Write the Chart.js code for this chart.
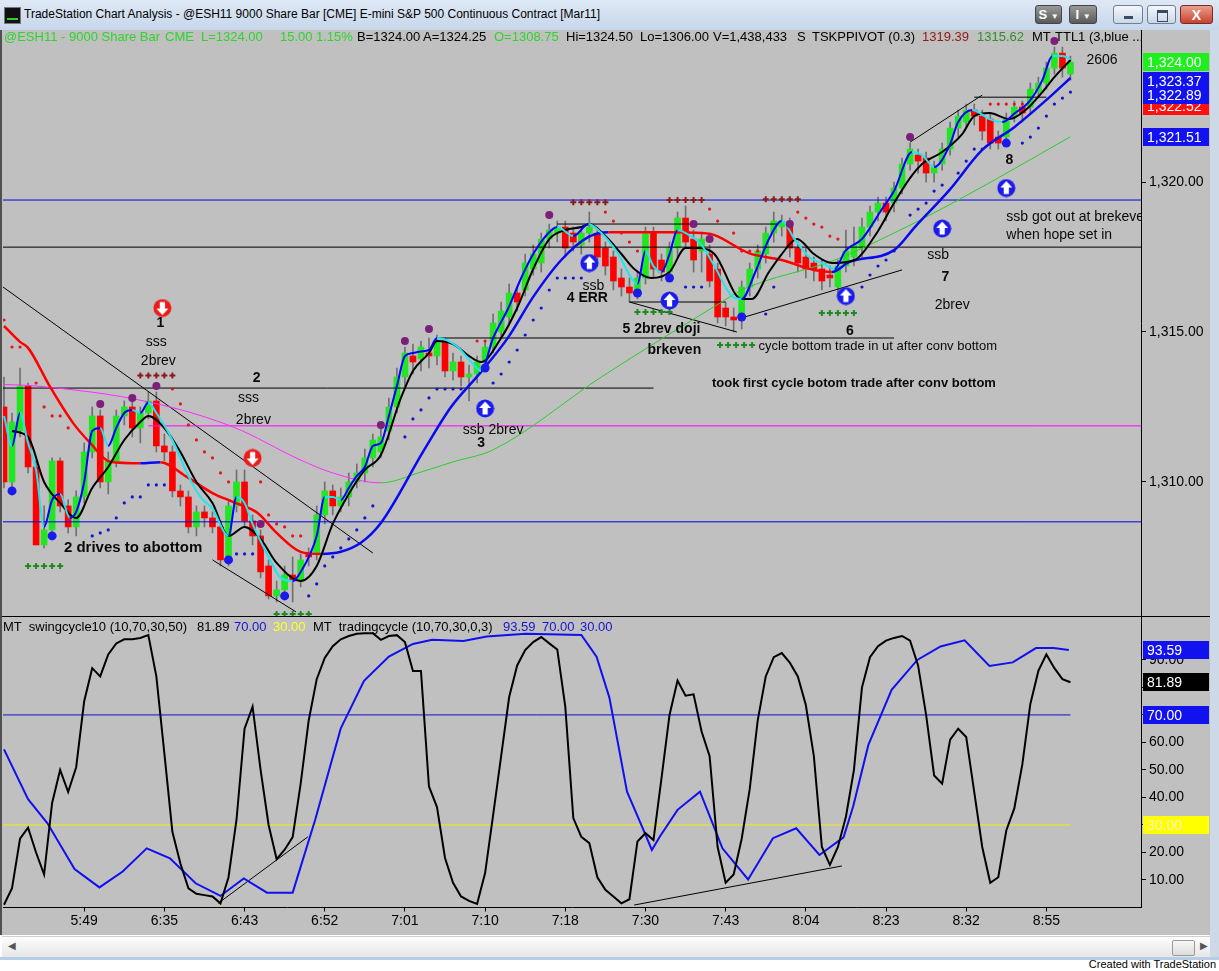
<!DOCTYPE html>
<html>
<head>
<meta charset="utf-8">
<script src="https://cdn.jsdelivr.net/npm/chart.js@4.4.1/dist/chart.umd.min.js"></script>
<style>
  body { margin: 0; width: 1219px; height: 971px; overflow: hidden; background: #fff;
         font-family: 'Liberation Sans', Arial, sans-serif; position: relative; }
  #title { position: absolute; left: 0; top: 0; width: 1219px; height: 30px;
           background: linear-gradient(#dfe9f5, #c6d6ea); }
  #ico { position: absolute; left: 4px; top: 7px; width: 15px; height: 15px; background: #111; border: 1px solid #777; }
  #ico::after { content: ''; position: absolute; left: 2px; right: 2px; bottom: 3px; height: 2px; background: #3c3; }
  #ttl { position: absolute; left: 24px; top: 7px; font-size: 12px; color: #000; white-space: pre; }
  .btn { position: absolute; top: 5px; height: 19px; border-radius: 3px; box-sizing: border-box;
         font-size: 13px; font-weight: bold; color: #fff; text-align: center; line-height: 18px; }
  .dk { background: linear-gradient(#9a9a9a, #5a5a5a); border: 1px solid #444; }
  .lt { background: linear-gradient(#f4f7fb, #cbd7e6); border: 1px solid #6d7f98; }
  .cl { background: linear-gradient(#e8a090, #c8412c); border: 1px solid #7a2a20; }
  #bg { position: absolute; left: 0; top: 30px; width: 1210px; height: 905px; background: #c0c0c0; }
  #lb { position: absolute; left: 0; top: 30px; width: 2px; height: 905px; background: #505050; }
  #rf { position: absolute; left: 1210px; top: 30px; width: 9px; height: 930px; background: #cdd9e7; }
  canvas { position: absolute; left: 0; }
  #price { top: 30px; }
  #osc { top: 617px; }
  #sep { position: absolute; left: 0; top: 616px; width: 1210px; height: 1px; background: #000; }
  .hd { position: absolute; font-size: 13px; white-space: pre; color: #000; }
  #scroll { position: absolute; left: 2px; top: 936px; width: 1208px; height: 20px;
            background: linear-gradient(#fdfdfd, #e6e6e6); border-top: 1px solid #d0d0d0; }
  #thumb { position: absolute; left: 1170px; top: 3px; width: 21px; height: 14px;
           background: linear-gradient(#f7f7f7, #dcdcdc); border: 1px solid #9a9a9a; border-radius: 2px; }
  #bf { position: absolute; left: 0; top: 957px; width: 1219px; height: 3px; background: #b7cde6; }
  #foot { position: absolute; right: 3px; top: 958px; font-size: 11px; color: #000; }
</style>
</head>
<body>
<div id="title">
  <div id="ico"></div>
  <span id="ttl">TradeStation Chart Analysis - @ESH11 9000 Share Bar [CME] E-mini S&amp;P 500 Continuous Contract [Mar11]</span>
  <div class="btn dk" style="left:1035px;width:27px">S <span style="font-size:8px">&#9660;</span></div>
  <div class="btn dk" style="left:1069px;width:28px">I <span style="font-size:8px">&#9660;</span></div>
  <div class="btn lt" style="left:1113px;width:30px"><div style="position:absolute;left:10px;top:10px;width:9px;height:3px;background:#3a4a60"></div></div>
  <div class="btn lt" style="left:1147px;width:29px"><div style="position:absolute;left:9px;top:4px;width:9px;height:8px;border:1px solid #3a4a60;border-top-width:3px"></div></div>
  <div class="btn cl" style="left:1180px;width:33px;font-size:14px">X</div>
</div>
<div id="bg"></div>
<div id="rf"></div>
<canvas id="price" width="1210" height="586"></canvas>
<canvas id="osc" width="1210" height="319"></canvas>
<div id="sep"></div>
<div id="lb"></div>

<div class="hd" style="top:29px;left:4px;color:#2fd42f">@ESH11 - 9000 Share Bar</div>
<div class="hd" style="top:29px;left:165px;color:#2fd42f">CME</div>
<div class="hd" style="top:29px;left:201px;color:#2fd42f">L=1324.00</div>
<div class="hd" style="top:29px;left:280px;color:#2fd42f">15.00</div>
<div class="hd" style="top:29px;left:316px;color:#2fd42f">1.15%</div>
<div class="hd" style="top:29px;left:357px">B=1324.00</div>
<div class="hd" style="top:29px;left:423px">A=1324.25</div>
<div class="hd" style="top:29px;left:494px;color:#2fd42f">O=1308.75</div>
<div class="hd" style="top:29px;left:566px">Hi=1324.50</div>
<div class="hd" style="top:29px;left:640px">Lo=1306.00</div>
<div class="hd" style="top:29px;left:713px">V=1,438,433</div>
<div class="hd" style="top:29px;left:797px">S</div>
<div class="hd" style="top:29px;left:812px">TSKPPIVOT (0.3)</div>
<div class="hd" style="top:29px;left:922px;color:#8c1b1b">1319.39</div>
<div class="hd" style="top:29px;left:977px;color:#2f8f2f">1315.62</div>
<div class="hd" style="top:29px;left:1032px">MT</div>
<div class="hd" style="top:29px;left:1055px">TTL1 (3,blue ...</div>

<div class="hd" style="top:619px;left:3px">MT  swingcycle10 (10,70,30,50)</div>
<div class="hd" style="top:619px;left:197px">81.89</div>
<div class="hd" style="top:619px;left:234px;color:#1515d0">70.00</div>
<div class="hd" style="top:619px;left:273px;color:#ffff30">30.00</div>
<div class="hd" style="top:619px;left:313px">MT  tradingcycle (10,70,30,0,3)</div>
<div class="hd" style="top:619px;left:503px;color:#1515d0">93.59</div>
<div class="hd" style="top:619px;left:542px;color:#1515d0">70.00</div>
<div class="hd" style="top:619px;left:580px;color:#1515d0">30.00</div>

<div id="scroll">
  <div style="position:absolute;left:6px;top:3px;font-size:10px;color:#555">&#9664;</div>
  <div id="thumb"></div>
  <div style="position:absolute;left:1198px;top:3px;font-size:10px;color:#555">&#9654;</div>
</div>
<div id="bf"></div>
<div id="foot">Created with TradeStation</div>

<script>
// ---- data (bar index 0..133) ----
const tickLabels = ['5:49', '6:35', '6:43', '6:52', '7:01', '7:10', '7:18', '7:30', '7:43', '8:04', '8:23', '8:32', '8:55'];
const tickBars = [10, 20, 30, 40, 50, 60, 70, 80, 90, 100, 110, 120, 130];
const priceTicks = [1310, 1315, 1320];
const oscTicks = [10, 20, 30, 40, 50, 60, 70, 80, 90];

const opens = [
  1312.5, 1310.0, 1311.7, 1313.2, 1310.5, 1307.9, 1308.4, 1310.7, 1309.2, 1308.5,
  1309.5, 1311.0, 1312.2, 1310.0, 1310.7, 1312.2, 1312.5, 1311.8, 1312.3, 1312.7,
  1311.2, 1311.0, 1309.7, 1309.5, 1308.5, 1309.0, 1308.8, 1308.5, 1307.4, 1309.2,
  1310.0, 1308.7, 1308.2, 1307.2, 1306.2, 1306.4, 1306.9, 1306.7, 1307.6, 1307.6,
  1308.9, 1309.7, 1309.2, 1309.5, 1310.0, 1310.3, 1310.8, 1311.0, 1311.7, 1312.5,
  1313.5, 1314.2, 1314.1, 1314.3, 1314.2, 1314.7, 1313.7, 1314.0, 1313.5, 1313.6,
  1314.0, 1314.5, 1315.0, 1315.5, 1316.3, 1316.4, 1317.1, 1317.3, 1318.1, 1318.3,
  1318.5, 1318.3, 1317.9, 1318.3, 1318.3, 1317.8, 1317.5, 1316.8, 1316.5, 1316.4,
  1316.8, 1318.3, 1317.4, 1317.0, 1317.8, 1318.8, 1318.1, 1317.7, 1317.6, 1317.1,
  1315.8, 1315.5, 1315.5, 1316.5, 1317.1, 1317.6, 1318.3, 1318.5, 1318.5, 1317.8,
  1317.5, 1317.3, 1317.1, 1316.9, 1316.5, 1317.2, 1317.5, 1317.8, 1318.5, 1319.0,
  1319.3, 1319.3, 1319.8, 1320.6, 1320.9, 1320.8, 1320.3, 1320.6, 1321.1, 1321.8,
  1322.0, 1322.4, 1322.2, 1322.1, 1321.5, 1321.5, 1322.2, 1322.5, 1322.5, 1323.0,
  1323.3, 1323.8, 1324.3, 1323.6
];
const closes = [
  1310.0, 1312.0, 1313.2, 1310.5, 1307.9, 1308.4, 1310.7, 1309.2, 1308.5, 1309.5,
  1311.0, 1312.2, 1310.0, 1310.7, 1312.2, 1312.5, 1311.8, 1312.3, 1312.7, 1311.2,
  1311.0, 1309.7, 1309.5, 1308.5, 1309.0, 1308.8, 1308.5, 1307.4, 1309.2, 1310.0,
  1308.7, 1308.2, 1307.0, 1306.2, 1306.4, 1306.9, 1306.7, 1307.4, 1307.5, 1308.9,
  1309.7, 1309.2, 1309.5, 1310.0, 1310.3, 1310.8, 1311.4, 1311.5, 1312.5, 1313.5,
  1314.3, 1314.0, 1314.5, 1314.2, 1314.7, 1313.7, 1314.0, 1313.5, 1313.6, 1314.0,
  1314.5, 1315.3, 1315.7, 1316.3, 1316.0, 1317.3, 1317.6, 1318.1, 1318.4, 1318.5,
  1317.8, 1318.0, 1318.3, 1318.5, 1317.5, 1317.2, 1316.7, 1316.5, 1316.3, 1316.8,
  1318.3, 1317.1, 1317.0, 1317.8, 1318.8, 1318.0, 1317.4, 1318.1, 1316.7, 1315.5,
  1315.5, 1315.4, 1316.5, 1317.1, 1317.7, 1318.3, 1318.7, 1318.7, 1317.8, 1317.3,
  1317.1, 1317.1, 1316.7, 1316.8, 1317.2, 1317.7, 1317.9, 1318.5, 1319.0, 1319.3,
  1319.0, 1319.8, 1320.6, 1321.1, 1320.7, 1320.3, 1320.5, 1321.1, 1321.8, 1322.2,
  1322.4, 1322.2, 1321.7, 1321.3, 1321.3, 1322.1, 1322.5, 1322.3, 1323.1, 1323.3,
  1323.8, 1324.3, 1323.8, 1324.0
];
const highs = [
  1313.5, 1312.3, 1313.8, 1313.3, 1310.7, 1309.2, 1310.8, 1310.8, 1309.4, 1309.7,
  1311.3, 1312.5, 1312.4, 1311.0, 1312.4, 1312.7, 1312.7, 1312.5, 1313.0, 1313.0,
  1311.6, 1311.2, 1309.9, 1309.7, 1309.2, 1309.2, 1309.0, 1308.7, 1309.4, 1310.4,
  1310.4, 1308.9, 1308.4, 1307.4, 1306.7, 1307.2, 1307.5, 1307.6, 1307.8, 1309.2,
  1310.0, 1309.9, 1309.8, 1310.3, 1310.6, 1311.1, 1311.6, 1311.8, 1312.8, 1313.8,
  1314.5, 1314.6, 1314.7, 1314.8, 1314.9, 1314.8, 1314.3, 1314.2, 1313.9, 1314.2,
  1314.7, 1315.6, 1316.0, 1316.6, 1316.5, 1317.6, 1317.9, 1318.3, 1318.6, 1318.7,
  1318.7, 1318.5, 1318.5, 1319.0, 1318.5, 1318.0, 1317.7, 1317.1, 1316.8, 1317.0,
  1318.5, 1318.5, 1317.6, 1318.0, 1319.0, 1319.2, 1318.4, 1318.3, 1317.9, 1317.3,
  1316.0, 1315.8, 1316.7, 1317.3, 1317.9, 1318.5, 1319.0, 1318.9, 1318.8, 1318.0,
  1317.8, 1317.5, 1317.4, 1317.2, 1317.4, 1318.4, 1318.5, 1318.8, 1319.2, 1319.5,
  1319.5, 1320.0, 1320.8, 1321.3, 1321.1, 1321.0, 1320.7, 1321.3, 1322.0, 1322.4,
  1322.6, 1322.6, 1322.4, 1322.3, 1321.7, 1322.3, 1322.7, 1322.7, 1323.3, 1323.5,
  1324.0, 1324.5, 1324.5, 1324.2
];
const lows = [
  1309.8, 1309.8, 1311.5, 1310.3, 1307.9, 1307.8, 1308.2, 1309.0, 1308.3, 1308.2,
  1309.3, 1310.8, 1309.8, 1309.6, 1310.5, 1311.9, 1311.5, 1311.3, 1312.1, 1311.0,
  1310.7, 1309.5, 1309.2, 1308.3, 1308.2, 1308.5, 1308.3, 1307.2, 1307.2, 1309.0,
  1308.5, 1307.9, 1306.8, 1306.1, 1306.0, 1306.2, 1306.0, 1306.5, 1307.2, 1307.4,
  1308.6, 1308.9, 1309.0, 1309.2, 1309.8, 1310.0, 1310.5, 1310.8, 1311.4, 1312.3,
  1313.2, 1313.6, 1313.7, 1313.8, 1313.9, 1313.5, 1313.4, 1313.2, 1312.7, 1313.3,
  1313.8, 1314.3, 1314.8, 1315.2, 1315.7, 1316.2, 1316.9, 1317.0, 1317.8, 1318.0,
  1317.5, 1317.7, 1317.6, 1318.0, 1317.2, 1316.9, 1316.4, 1316.2, 1316.0, 1316.1,
  1316.6, 1316.8, 1316.7, 1316.7, 1317.5, 1317.8, 1317.0, 1317.0, 1316.5, 1315.3,
  1315.2, 1315.0, 1315.1, 1316.2, 1316.8, 1317.3, 1318.0, 1318.2, 1317.5, 1317.0,
  1316.8, 1316.7, 1316.4, 1316.5, 1316.2, 1317.0, 1317.2, 1317.5, 1318.2, 1318.7,
  1318.7, 1319.0, 1319.6, 1320.4, 1320.3, 1320.0, 1320.0, 1320.4, 1320.9, 1321.5,
  1321.8, 1321.9, 1321.4, 1321.1, 1321.1, 1321.3, 1322.0, 1322.0, 1322.3, 1322.8,
  1323.1, 1323.6, 1323.5, 1323.4
];

// moving-average style lines, [bar, price] read at their turning points
const fastLine = [
  [0, 1312.2], [1, 1311.2], [2, 1312.3], [3, 1311.3], [4, 1310.4], [5, 1308.5], [6, 1309.4], [7, 1309.6],
  [8.2, 1308.8], [9, 1309.0], [10, 1310.0], [11, 1311.7], [12, 1311.8], [13, 1311.2], [14, 1311.8],
  [15, 1312.3], [16, 1312.4], [17, 1312.3], [18, 1312.65], [19, 1312.3], [21, 1311.4], [23, 1310.2],
  [24.5, 1309.5], [26, 1309.1], [28, 1308.2], [29, 1309.5], [30, 1309.3], [31, 1308.6], [33, 1307.5],
  [34.5, 1306.8], [36, 1306.7], [37, 1307.0], [39, 1308.2], [40, 1309.5], [41, 1309.5], [42, 1309.4],
  [43, 1309.8], [44, 1310.2], [45, 1310.5], [46, 1311.2], [47, 1311.3], [48, 1312.2], [49, 1313.2],
  [50, 1314.2], [51, 1314.3], [52, 1314.35], [53, 1314.4], [54, 1314.8], [56.6, 1314.5], [58.25, 1314.0],
  [59.5, 1313.7], [61, 1314.8], [62.9, 1315.8], [64.5, 1316.8], [66, 1317.6], [67.9, 1318.3], [69, 1318.5],
  [71, 1318.2], [72.9, 1318.6], [74.5, 1318.3], [76.6, 1317.6], [78.25, 1316.8], [79, 1316.6], [80, 1317.7],
  [81, 1317.2], [82, 1317.0], [83, 1317.6], [84, 1318.4], [85, 1318.3], [87, 1317.9], [88.6, 1317.2],
  [90.75, 1316.2], [92, 1316.1], [93.7, 1317.0], [95.4, 1318.1], [97, 1318.7], [98.6, 1318.1],
  [100.4, 1317.5], [102, 1317.3], [103.6, 1317.1], [104.9, 1317.7], [107, 1318.1], [109.5, 1319.1],
  [111, 1319.7], [113.25, 1321.0], [114.5, 1320.9], [116, 1320.5], [117.9, 1321.2], [119, 1322.0],
  [120.75, 1322.4], [122.9, 1322.1], [124.5, 1322.0], [126.1, 1322.3], [127.9, 1322.7], [129.5, 1323.4],
  [130.75, 1324.2], [132, 1324.2], [133, 1324.1]
];
const blackLine = [
  [1, 1311.7], [3, 1311.5], [5, 1310.0], [7, 1309.3], [9, 1308.8], [11, 1309.8], [13, 1310.5], [15, 1311.4],
  [17, 1312.0], [18, 1312.2], [20, 1311.8], [22, 1311.0], [24, 1310.0], [26, 1309.3], [28, 1308.2],
  [30, 1308.5], [32, 1308.1], [34, 1307.3], [37, 1306.7], [39, 1307.2], [41, 1308.6], [43, 1309.6],
  [45, 1310.4], [47, 1310.9], [49.5, 1312.8], [51, 1313.7], [53, 1314.3], [54, 1314.7], [56, 1314.6],
  [58, 1314.2], [59.5, 1314.0], [62, 1314.8], [64, 1315.8], [66, 1317.1], [68, 1318.1], [70, 1318.4],
  [72, 1318.5], [73, 1318.6], [75, 1318.2], [77, 1317.6], [78.6, 1317.1], [80.75, 1316.8], [83, 1317.0],
  [85, 1317.8], [86.6, 1317.8], [88.6, 1317.6], [92, 1316.1], [93.25, 1316.1], [95.4, 1317.0], [97, 1317.6],
  [98.9, 1318.1], [101, 1317.6], [103.25, 1317.3], [106.1, 1317.4], [108.6, 1318.2], [111, 1319.3],
  [112.9, 1320.1], [114.5, 1320.6], [117, 1321.0], [119.5, 1321.6], [121, 1322.2], [122.9, 1322.3],
  [125.4, 1322.1], [127.4, 1322.4], [129.5, 1323.0], [131, 1323.5], [133, 1324.07]
];
const mediumLine = [
  [0, 1315.2], [2, 1314.67], [3, 1314.47], [5.75, 1313.17], [8.6, 1311.97], [10.75, 1311.3], [13.25, 1310.67],
  [17, 1310.62], [19.5, 1310.66], [22.8, 1310.17], [26, 1309.63], [28.6, 1309.33], [31.6, 1308.97],
  [34, 1308.3], [37, 1307.67], [39.5, 1307.6], [42, 1307.67], [44.5, 1307.97], [47, 1308.63],
  [52.4, 1311.07], [55.75, 1312.5], [59.5, 1313.67], [62.9, 1314.83], [66, 1316.17], [69.5, 1317.4],
  [72.9, 1318.17], [75.4, 1318.33], [78.6, 1318.33], [82.9, 1318.33], [87, 1318.3], [88.6, 1318.23],
  [92.9, 1317.63], [97, 1317.4], [101, 1317.07], [103.25, 1317.0], [105.4, 1317.33], [111, 1317.73],
  [113.6, 1318.5], [117.9, 1319.73], [122, 1321.07], [126, 1321.83], [130.4, 1322.83], [133, 1323.47]
];
const slowLine = [
  [0, 1313.25], [4, 1313.2], [18, 1312.67], [28.6, 1311.83], [37, 1310.73], [41, 1310.3], [47, 1309.97],
  [52, 1310.33], [56, 1310.67], [61, 1311.07], [74.5, 1313.5], [89.5, 1316.0], [92, 1316.4],
  [103.6, 1317.4], [111, 1318.3], [119, 1319.4], [133, 1321.51]
];

// stop dots and swing markers [bar, price]
const redDots = [
  [0, 1315.4], [1, 1314.5], [2, 1314.5], [4, 1313.3], [5, 1312.5], [6, 1312.2], [7, 1312.2], [8, 1311.8],
  [21, 1313.1], [22, 1312.6], [23, 1311.9], [24, 1311.4], [25, 1311.0], [26, 1310.8], [27, 1310.3],
  [28, 1310.0], [32, 1310.0], [33, 1308.9], [34, 1308.6], [35, 1308.5], [36, 1308.2], [37, 1308.2],
  [59, 1314.7], [60, 1314.7], [75, 1319.0], [76, 1318.7], [77, 1318.3], [78, 1318.0], [79, 1317.7],
  [88, 1319.1], [89, 1318.7], [91, 1318.3], [92, 1317.7], [93, 1317.7], [94, 1317.7], [99, 1319.0],
  [100, 1318.8], [101, 1318.6], [102, 1318.5], [103, 1318.2], [104, 1318.1], [123, 1322.6], [124, 1322.6],
  [125, 1322.6], [126, 1322.6], [127, 1322.6]
];
const blueDots = [
  [11, 1308.2], [12, 1308.3], [13, 1308.4], [14, 1308.8], [15, 1309.3], [16, 1309.5], [17, 1309.5],
  [18, 1309.9], [19, 1309.9], [20, 1309.9], [29, 1307.6], [30, 1307.6], [31, 1307.6], [38, 1306.2],
  [39, 1306.6], [40, 1307.2], [41, 1307.5], [42, 1307.8], [43, 1308.1], [44, 1308.4], [45, 1308.8],
  [46, 1309.2], [50, 1311.5], [51, 1312.1], [52, 1312.4], [53, 1312.8], [54, 1313.1], [55, 1313.1],
  [56, 1313.1], [57, 1313.1], [61, 1313.3], [62, 1313.6], [63, 1314.0], [64, 1314.4], [65, 1314.9],
  [66, 1315.4], [67, 1315.8], [68, 1316.4], [69, 1316.8], [70, 1316.8], [71, 1316.8], [72, 1316.8],
  [85, 1316.5], [86, 1316.5], [87, 1316.5], [95, 1315.6], [96, 1316.5], [107, 1316.5], [108, 1316.9],
  [109, 1317.2], [110, 1317.4], [111, 1317.7], [113, 1318.9], [114, 1319.1], [115, 1319.3], [116, 1319.7],
  [117, 1319.9], [119, 1320.3], [120, 1320.7], [121, 1321.1], [122, 1321.1], [127, 1321.3], [128, 1321.5],
  [129, 1321.8], [130, 1322.2], [131, 1322.6], [132, 1322.8], [133, 1323.0]
];
const swingHighs = [
  [12, 1312.6], [16, 1312.8], [19, 1313.2], [32, 1308.6], [47, 1311.9], [50, 1314.7], [53, 1315.1],
  [68, 1318.9], [86, 1318.6], [88, 1318.1], [98, 1318.6], [113, 1321.5], [131, 1324.7]
];
const swingLows = [
  [1, 1309.7], [6, 1308.2], [28, 1307.4], [35, 1306.2], [60, 1313.8], [79, 1316.3], [83, 1316.8],
  [92, 1315.5], [125, 1321.3]
];
const sellArrows = [[19.75, 1315.8], [31, 1310.8]];
const buyArrows = [[60, 1312.45], [73, 1317.3], [83, 1316.05], [105, 1316.2], [117, 1318.45], [125, 1319.8]];
const redCrosses = [
  [17, 1313.55], [18, 1313.55], [19, 1313.55], [20, 1313.55], [21, 1313.55],
  [71, 1319.33], [72, 1319.33], [73, 1319.33], [74, 1319.33], [75, 1319.33],
  [83, 1319.4], [84, 1319.4], [85, 1319.4], [86, 1319.4], [87, 1319.4],
  [95, 1319.43], [96, 1319.43], [97, 1319.43], [98, 1319.43], [99, 1319.43]
];
const greenCrosses = [
  [3, 1307.2], [4, 1307.2], [5, 1307.2], [6, 1307.2], [7, 1307.2],
  [34, 1305.6], [35, 1305.6], [36, 1305.6], [37, 1305.6], [38, 1305.6],
  [79, 1315.67], [80, 1315.67], [81, 1315.67], [82, 1315.67], [83, 1315.67],
  [102, 1315.63], [103, 1315.63], [104, 1315.63], [105, 1315.63], [106, 1315.63],
  [89.3, 1314.57], [90.3, 1314.57], [91.3, 1314.57], [92.3, 1314.57], [93.3, 1314.57]
];

// drawn levels [fromBar, toBar, price] and trend lines [[bar, price], [bar, price]]
const blueLevels = [[-1, 143, 1319.4], [-1, 143, 1308.67]];
const magentaLevels = [[18, 143, 1311.87]];
const blackLevels = [
  [-1, 143, 1317.83], [-1, 81, 1313.13], [54, 111, 1314.8], [69, 96.4, 1318.6], [78, 90, 1316.0], [121, 130, 1322.83]
];
const trendLines = [
  [[-0.125, 1316.5], [46, 1307.63]],
  [[26, 1307.4], [36.4, 1305.67]],
  [[78, 1316.0], [91.4, 1315.0]],
  [[92, 1315.47], [112, 1317.07]],
  [[113, 1321.33], [122, 1322.9]]
];

const priceTagValues = [1321.51, 1322.52, 1322.89, 1323.37, 1324.00];

// lower panel
const swingCycle = [
  1, 7, 25, 29, 20, 12, 38, 50, 42, 51,
  75, 87, 84, 92, 96, 97.5, 97.5, 98, 99, 84,
  56, 27.5, 16, 7, 5, 4.5, 4, 1.5, 11, 32,
  65, 73, 50, 30, 17.6, 21, 25.6, 45, 68, 83,
  90.7, 95, 97.5, 98.7, 99.5, 99.7, 99.7, 97.3, 98.7, 99,
  96.5, 86, 86, 44, 36.5, 18, 9, 4, 2.4, 1.3,
  12.5, 33.6, 55, 76.5, 88, 93.6, 96.5, 98.3, 96, 93.8,
  73, 32.5, 25.7, 23.4, 11, 6.4, 4, 1.5, 3, 24,
  27, 24.5, 47, 70, 82.5, 77, 77.5, 64, 55, 22,
  9, 12, 25, 43, 68, 84, 91, 92.5, 89, 84,
  73.6, 55, 22, 15.5, 22, 33, 50, 80, 91, 95,
  97, 98, 98.7, 97, 88, 70, 48, 45, 61, 65,
  62, 42, 22, 9, 11, 28, 36, 52, 74, 86,
  92, 87, 83, 81.89
];
const tradingCycle = [
  [0, 57.5], [3, 39.4], [5.4, 30.7], [8.8, 14], [11.9, 7.3], [14.8, 13.1], [17.8, 21.5], [20.7, 17.9],
  [23.9, 8.8], [27, 4.2], [29.9, 10.6], [32.8, 5.4], [36, 5.4], [38.8, 31.8], [42, 65.1], [44.9, 82.4],
  [48, 91.2], [51, 95.8], [53.4, 97.3], [57.3, 96.9], [60.2, 98.5], [65.1, 99.5], [72, 99.1], [73.9, 91.2],
  [75.5, 76.3], [77.7, 42.1], [79.4, 30.6], [80.8, 20.9], [81.8, 25.8], [84, 35.5], [86.8, 42.1],
  [89.6, 21.5], [92.8, 10.2], [95.9, 25.2], [98.8, 28.8], [101.7, 19.1], [104.7, 25.5], [105.9, 36.7],
  [107.8, 59.1], [110.7, 79.1], [113.9, 90], [116.8, 94.9], [119.8, 97.1], [122.9, 87.8], [125.8, 89.1],
  [128.7, 94.3], [130.9, 94.3], [132.8, 93.59]
];
const oscLevels = [70, 30];
const oscTrendLines = [[[26.7, 1.5], [37.9, 25.7]], [[78.6, 0.9], [104.5, 15.1]]];
const oscTagValues = [30, 70, 81.89, 93.59];

// notes [bar, price, text, style]
const notes = [
  [19.5, 1315.3, '1', 'b'], [19, 1314.67, 'sss', 'n'], [19.25, 1314.03, '2brev', 'n'],
  [31.5, 1313.47, '2', 'b'], [30.5, 1312.8, 'sss', 'n'], [31.1, 1312.07, '2brev', 'n'],
  [16.1, 1307.8, '2 drives to abottom', 'B'],
  [61, 1311.73, 'ssb 2brev', 'n'], [59.5, 1311.3, '3', 'b'],
  [73.5, 1316.53, 'ssb', 'n'], [72.75, 1316.13, '4 ERR', 'b'],
  [82, 1315.1, '5 2brev doji', 'b'], [83.6, 1314.4, 'brkeven', 'b'],
  [105.5, 1315.03, '6', 'b'],
  [94.1, 1314.53, 'cycle bottom trade in ut after conv bottom', 'l'],
  [106, 1313.3, 'took first cycle botom trade after conv bottom', 's'],
  [116.5, 1317.57, 'ssb', 'n'], [117.4, 1316.83, '7', 'b'], [118.25, 1315.9, '2brev', 'n'],
  [125.4, 1320.73, '8', 'b'],
  [125, 1318.83, 'ssb got out at brekeven', 'L'], [125, 1318.23, 'when hope set in', 'L'],
  [135, 1324.07, '2606', 'L']
];

// ---- drawing ----
const FONT = "'Liberation Sans', Arial, sans-serif";
Chart.defaults.font.family = FONT;
const xMin = -0.125, xMax = 141.8;
const barIdx = closes.map((_, i) => i);
const pts = arr => arr.map(([x, y]) => ({ x, y }));

const noteStyles = {
  n: { font: '14px', align: 'center' },
  b: { font: 'bold 14px', align: 'center' },
  B: { font: 'bold 15px', align: 'center' },
  s: { font: 'bold 13px', align: 'center' },
  l: { font: '13px', align: 'left' },
  L: { font: '14px', align: 'left' }
};

function arrowIcon(fill, up) {
  const c = document.createElement('canvas');
  c.width = 19; c.height = 19;
  const g = c.getContext('2d');
  g.fillStyle = fill;
  g.beginPath(); g.arc(9.5, 9.5, 9, 0, Math.PI * 2); g.fill();
  g.fillStyle = '#fff';
  g.translate(9.5, 9.5);
  if (!up) g.rotate(Math.PI);
  g.beginPath();
  g.moveTo(0, -7); g.lineTo(6, -0.5); g.lineTo(2.6, -0.5); g.lineTo(2.6, 6);
  g.lineTo(-2.6, 6); g.lineTo(-2.6, -0.5); g.lineTo(-6, -0.5); g.closePath();
  g.fill();
  return c;
}

const fmtPrice = v => v.toLocaleString('en-US', { minimumFractionDigits: 2, maximumFractionDigits: 2 });

// keep the plot edge where TradeStation has it: no room reserved for half labels
function tightY(width) {
  return s => { s.width = width; s.paddingTop = 0; s.paddingBottom = 0; };
}

function levelSet(levels, color, order) {
  return levels.map(([a, b, p]) => ({
    type: 'line', data: [{ x: a, y: p }, { x: b, y: p }], borderColor: color, borderWidth: 1,
    pointRadius: 0, order
  }));
}
function trendSet(lines, color, order) {
  return lines.map(l => ({
    type: 'line', data: pts(l), borderColor: color, borderWidth: 1, pointRadius: 0, order
  }));
}
function dots(arr, color, radius, style, order, width) {
  return {
    type: 'line', data: pts(arr), showLine: false, pointRadius: radius, pointStyle: style,
    pointBackgroundColor: color, pointBorderColor: color, pointBorderWidth: width || 0, order
  };
}
function slopeLine(arr, up, down, width, order, smooth) {
  return {
    type: 'line', data: pts(arr), borderWidth: width, pointRadius: 0, order,
    cubicInterpolationMode: smooth ? 'monotone' : 'default',
    borderColor: up,
    segment: { borderColor: c => (c.p1.parsed.y > c.p0.parsed.y ? up : down) }
  };
}

const notesPlugin = {
  id: 'notes',
  afterDatasetsDraw(chart) {
    const { ctx, chartArea: a, scales: { x, y } } = chart;
    ctx.save();
    ctx.beginPath();
    ctx.rect(a.left, a.top, a.right - a.left, a.bottom - a.top);
    ctx.clip();
    ctx.fillStyle = '#0a0a0a';
    ctx.textBaseline = 'middle';
    notes.forEach(([i, p, t, s]) => {
      const st = noteStyles[s];
      ctx.font = st.font + ' ' + FONT;
      ctx.textAlign = st.align;
      ctx.fillText(t, x.getPixelForValue(i), y.getPixelForValue(p));
    });
    ctx.restore();
  }
};

function tagsPlugin(values, fills, inks, fmt) {
  return {
    id: 'tags',
    afterDraw(chart) {
      const { ctx, chartArea: a, scales: { y } } = chart;
      ctx.save();
      ctx.font = '14px ' + FONT;
      ctx.textBaseline = 'middle';
      ctx.textAlign = 'left';
      values.forEach((v, k) => {
        const py = Math.round(y.getPixelForValue(v));
        ctx.fillStyle = fills[k];
        ctx.fillRect(a.right + 2, py - 9, 66, 18);
        ctx.fillStyle = inks[k];
        ctx.fillText(fmt(v), a.right + 6, py + 1);
      });
      ctx.restore();
    }
  };
}

// ---- price panel ----
new Chart(document.getElementById('price'), {
  type: 'bar',
  data: {
    datasets: [
      dots(buyArrows, '#1a1aff', 9, arrowIcon('#1a1aee', true), 0),
      dots(sellArrows, '#ee1a1a', 9, arrowIcon('#ee1a1a', false), 0),
      dots(swingHighs, '#7a1f7a', 4, 'circle', 1),
      dots(swingLows, '#1a1aee', 4.5, 'circle', 1),
      dots(redCrosses, '#8b1a1a', 3, 'cross', 1, 2),
      dots(greenCrosses, '#1f8a1f', 3, 'cross', 1, 2),
      dots(redDots, '#e01818', 1.6, 'circle', 2),
      dots(blueDots, '#1414c8', 1.6, 'circle', 2),
      slopeLine(fastLine, '#0000ff', '#1ee6f0', 2, 3, true),
      { type: 'line', data: pts(blackLine), borderColor: '#000', borderWidth: 2, pointRadius: 0,
        cubicInterpolationMode: 'monotone', order: 4 },
      slopeLine(mediumLine, '#0a0af0', '#ff0000', 2.5, 5, true),
      slopeLine(slowLine, '#2ccc2c', '#ff2bff', 1, 6, true),
      ...levelSet(blueLevels, '#0000e0', 7),
      ...levelSet(magentaLevels, '#ff00ff', 7),
      ...levelSet(blackLevels, '#000', 7),
      ...trendSet(trendLines, '#000', 7),
      {
        type: 'bar', order: 8, grouped: false, barThickness: 6, minBarLength: 1, borderWidth: 0,
        data: barIdx.map(i => ({ x: i, y: [opens[i], closes[i]] })),
        backgroundColor: barIdx.map(i => (closes[i] >= opens[i] ? '#22e622' : '#ff0000'))
      },
      {
        type: 'bar', order: 9, grouped: false, barThickness: 1, borderWidth: 0,
        data: barIdx.map(i => ({ x: i, y: [lows[i], highs[i]] })),
        backgroundColor: '#707070'
      }
    ]
  },
  options: {
    responsive: false, animation: false,
    layout: { autoPadding: false, padding: { left: 3, right: 0, top: 0, bottom: 0 } },
    plugins: { legend: { display: false }, tooltip: { enabled: false } },
    scales: {
      x: { type: 'linear', min: xMin, max: xMax, display: false, offset: false },
      y: {
        type: 'linear', position: 'right', min: 1305.53, max: 1325.07,
        afterFit: tightY(69),
        afterBuildTicks: s => { s.ticks = priceTicks.map(v => ({ value: v })); },
        ticks: { color: '#000', font: { size: 14 }, padding: 3, callback: v => fmtPrice(v) },
        grid: { drawOnChartArea: false, tickLength: 5, color: '#000' },
        border: { color: '#000' }
      }
    }
  },
  plugins: [notesPlugin, tagsPlugin(priceTagValues,
    ['#1212f0', '#ff1010', '#1212f0', '#1212f0', '#1ef01e'],
    ['#fff', '#fff', '#fff', '#fff', '#fff'], fmtPrice)]
});

// ---- oscillator panel ----
new Chart(document.getElementById('osc'), {
  type: 'line',
  data: {
    datasets: [
      { data: swingCycle.map((v, i) => ({ x: i, y: v })), borderColor: '#000', borderWidth: 2, pointRadius: 0, order: 0 },
      { data: pts(tradingCycle), borderColor: '#1010ee', borderWidth: 2, pointRadius: 0, order: 1 },
      ...trendSet(oscTrendLines, '#000', 2),
      { data: [{ x: xMin, y: oscLevels[0] }, { x: 133, y: oscLevels[0] }], borderColor: '#1010d0', borderWidth: 1, pointRadius: 0, order: 3 },
      { data: [{ x: xMin, y: oscLevels[1] }, { x: 133, y: oscLevels[1] }], borderColor: '#f0f000', borderWidth: 1, pointRadius: 0, order: 3 }
    ]
  },
  options: {
    responsive: false, animation: false,
    layout: { autoPadding: false, padding: { left: 3, right: 0, top: 0, bottom: 0 } },
    plugins: { legend: { display: false }, tooltip: { enabled: false } },
    scales: {
      x: {
        type: 'linear', min: xMin, max: xMax, offset: false,
        afterFit: s => { s.height = 28.5; s.paddingLeft = 0; s.paddingRight = 0; },
        afterBuildTicks: s => { s.ticks = tickBars.map(v => ({ value: v })); },
        ticks: { color: '#000', font: { size: 14 }, padding: 1, maxRotation: 0, autoSkip: false,
                 callback: (v, k) => tickLabels[k] },
        grid: { drawOnChartArea: false, tickLength: 4, color: '#000' },
        border: { color: '#000' }
      },
      y: {
        type: 'linear', position: 'right', min: 0, max: 105.6,
        afterFit: tightY(69),
        afterBuildTicks: s => { s.ticks = oscTicks.map(v => ({ value: v })); },
        ticks: { color: '#000', font: { size: 14 }, padding: 3, callback: v => v.toFixed(2) },
        grid: { drawOnChartArea: false, tickLength: 5, color: '#000' },
        border: { color: '#000' }
      }
    }
  },
  plugins: [tagsPlugin(oscTagValues,
    ['#ffff00', '#1212f0', '#000000', '#1212f0'],
    ['#f4f4b8', '#fff', '#fff', '#fff'], v => v.toFixed(2))]
});
</script>
</body>
</html>
